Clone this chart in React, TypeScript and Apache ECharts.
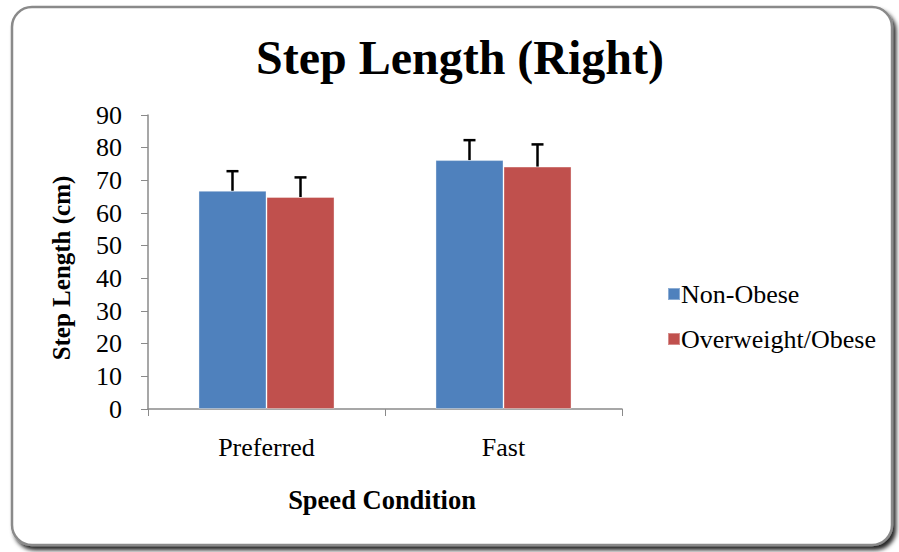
import React, { useEffect, useRef } from "react";
import * as echarts from "echarts";

const categories = ["Preferred", "Fast"];
const seriesNames = ["Non-Obese", "Overweight/Obese"];
const nonObese = [66.8, 76.2];
const overweight = [64.9, 74.2];
const nonObeseErr = [6.0, 6.1];
const overweightErr = [6.0, 6.8];
const yTicks = [0, 10, 20, 30, 40, 50, 60, 70, 80, 90];

const colors = ["#4F81BD", "#C0504D"];
const CAT_GAP = 0.426;
const FONT = "Liberation Serif";

export default function App() {
  const ref = useRef<HTMLDivElement>(null);
  useEffect(() => {
    if (!ref.current) return;
    const chart = echarts.init(ref.current, undefined, { renderer: "svg" });
    const errData: number[][] = [];
    categories.forEach((_, i) => {
      errData.push([i, nonObese[i], nonObese[i] + nonObeseErr[i], 0]);
      errData.push([i, overweight[i], overweight[i] + overweightErr[i], 1]);
    });
    chart.setOption({
      animation: false,
      textStyle: { fontFamily: FONT },
      graphic: [
        {
          type: "rect",
          z: -10,
          silent: true,
          shape: { x: 12, y: 7, width: 880, height: 538, r: 20 },
          style: {
            fill: "#ffffff",
            stroke: "#8a8a8a",
            lineWidth: 2.5,
            shadowColor: "rgba(0,0,0,0.85)",
            shadowBlur: 4,
            shadowOffsetX: 3,
            shadowOffsetY: 4,
          },
        },
      ],
      title: {
        text: "Step Length (Right)",
        left: 455,
        textAlign: "center",
        top: 28,
        textStyle: { fontFamily: FONT, fontSize: 48, fontWeight: "bold", color: "#000" },
      },
      legend: {
        orient: "vertical",
        left: 662,
        top: 276,
        itemWidth: 12,
        itemHeight: 12,
        itemGap: 19,
        icon: "rect",
        data: seriesNames,
        textStyle: { fontFamily: FONT, fontSize: 26, color: "#000", padding: [0, 0, 0, -4] },
      },
      grid: { left: 148, right: 277, top: 115, bottom: 143 },
      xAxis: {
        type: "category",
        data: categories,
        name: "Speed Condition",
        nameLocation: "middle",
        nameGap: 77,
        nameTextStyle: { fontFamily: FONT, fontSize: 26.5, fontWeight: "bold", color: "#000", padding: [0, 6, 0, 0] },
        axisLine: { lineStyle: { color: "#8a8a8a", width: 1.5 } },
        axisTick: { show: true, length: 7, lineStyle: { color: "#8a8a8a" } },
        axisLabel: { fontFamily: FONT, fontSize: 26, color: "#000", margin: 25 },
      },
      yAxis: {
        type: "value",
        min: 0,
        max: 90,
        interval: 10,
        name: "Step Length (cm)",
        nameLocation: "middle",
        nameGap: 74,
        nameTextStyle: { fontFamily: FONT, fontSize: 25, fontWeight: "bold", color: "#000", padding: [0, 12, 0, 0] },
        axisLine: { show: true, lineStyle: { color: "#8a8a8a", width: 1.5 } },
        axisTick: { show: true, length: 7, lineStyle: { color: "#8a8a8a" } },
        splitLine: { show: false },
        axisLabel: {
          fontFamily: FONT,
          fontSize: 26,
          color: "#000",
          margin: 26,
          formatter: (v: number) => (yTicks.includes(v) ? String(v) : ""),
        },
      },
      series: [
        {
          name: seriesNames[0],
          type: "bar",
          data: nonObese,
          itemStyle: { color: colors[0], borderColor: "rgba(255,255,255,0.35)", borderWidth: 1 },
          barGap: "0%",
          barCategoryGap: CAT_GAP * 100 + "%",
        },
        {
          name: seriesNames[1],
          type: "bar",
          data: overweight,
          itemStyle: { color: colors[1], borderColor: "rgba(255,255,255,0.35)", borderWidth: 1 },
          barGap: "0%",
          barCategoryGap: CAT_GAP * 100 + "%",
        },
        {
          type: "custom",
          silent: true,
          z: 10,
          data: errData,
          encode: { x: 0, y: [1, 2] },
          renderItem: (params: any, api: any) => {
            const cat = api.value(0);
            const lo = api.value(1);
            const hi = api.value(2);
            const idx = api.value(3);
            const band = api.size([1, 0])[0];
            const barW = (band * (1 - CAT_GAP)) / 2;
            const base = api.coord([cat, lo]);
            const top = api.coord([cat, hi]);
            const x = base[0] + (idx === 0 ? -barW / 2 : barW / 2);
            const cap = 6;
            const style = { stroke: "#000", lineWidth: 2.5 };
            return {
              type: "group",
              children: [
                { type: "line", shape: { x1: x, y1: base[1], x2: x, y2: top[1] }, style },
                { type: "line", shape: { x1: x - cap, y1: top[1], x2: x + cap, y2: top[1] }, style },
              ],
            };
          },
        },
      ],
    });
    return () => chart.dispose();
  }, []);
  return (
    <div
      ref={ref}
      style={{ position: "fixed", left: 0, top: 0, width: 899, height: 552, background: "#fff" }}
    />
  );
}
